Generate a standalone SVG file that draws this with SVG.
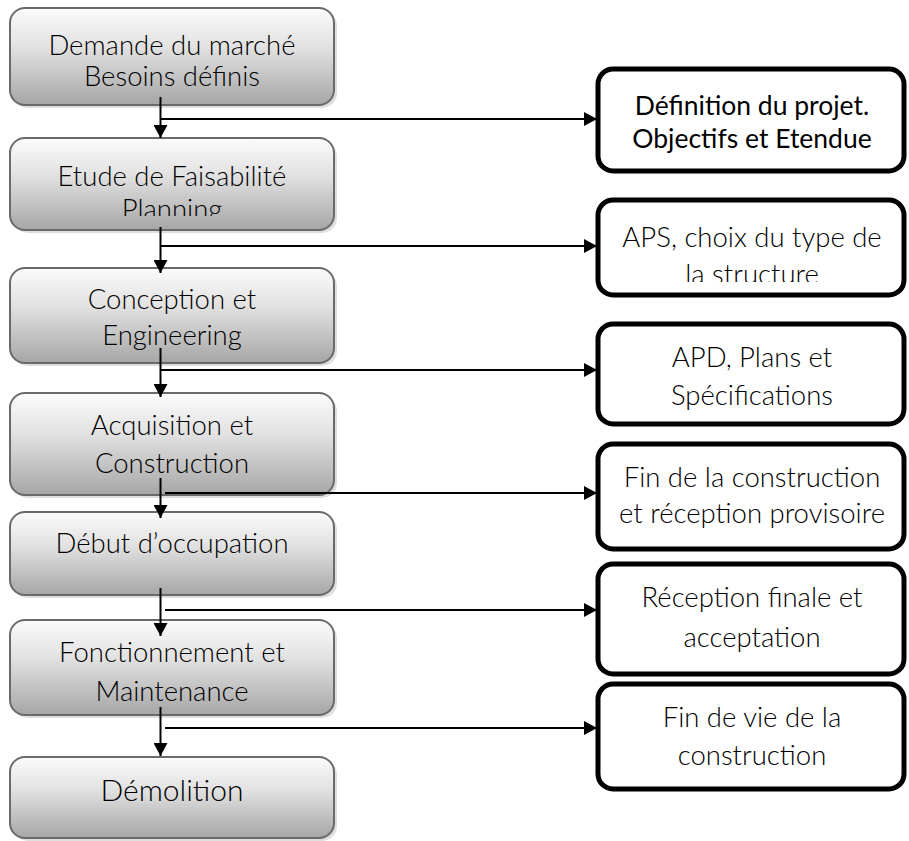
<svg xmlns="http://www.w3.org/2000/svg" width="909" height="841" viewBox="0 0 909 841">
<style>
.step{fill:url(#g);stroke:#6a6a6a;stroke-width:2}
.shadow{fill:#c8c8c8;opacity:0.6}
.out{fill:#fff;stroke:#000;stroke-width:5}
.t{font-family:Lato,"Open Sans","Liberation Sans",sans-serif;font-weight:300;font-size:27.5px;fill:#000;text-anchor:middle}
.tb{font-weight:400;font-size:26.5px}
.big{font-size:30px}
.c{stroke:#000;stroke-width:2;fill:none}
</style>
<defs>
<linearGradient id="g" x1="0" y1="0" x2="0" y2="1">
<stop offset="0" stop-color="#fbfbfb"/>
<stop offset="0.4" stop-color="#e2e2e2"/>
<stop offset="1" stop-color="#a6a6a6"/>
</linearGradient>
<marker id="ah" markerUnits="userSpaceOnUse" markerWidth="14" markerHeight="14" refX="13" refY="7" orient="auto">
<path d="M0,0 L13,7 L0,14 Z" fill="#000"/>
</marker>
<clipPath id="c2"><rect x="10" y="138" width="324" height="78"/></clipPath>
<clipPath id="cr2"><rect x="596" y="198" width="310" height="84"/></clipPath>
</defs>

<g id="n1">
<rect class="shadow" x="13" y="11" width="324" height="97" rx="15"/>
<rect class="step" x="10" y="8" width="324" height="97" rx="15"/>
<text class="t" x="172" y="55">Demande du marché</text>
<text class="t" x="172" y="86">Besoins définis</text>
</g>
<g id="n2">
<rect class="shadow" x="13" y="141" width="324" height="92" rx="15"/>
<rect class="step" x="10" y="138" width="324" height="92" rx="15"/>
<g clip-path="url(#c2)">
<text class="t" x="172" y="186">Etude de Faisabilité</text>
<text class="t" x="172" y="219">Planning</text>
</g>
</g>
<g id="n3">
<rect class="shadow" x="13" y="271" width="324" height="95" rx="15"/>
<rect class="step" x="10" y="268" width="324" height="95" rx="15"/>
<text class="t" x="172" y="309">Conception et</text>
<text class="t" x="172" y="345">Engineering</text>
</g>
<g id="n4">
<rect class="shadow" x="13" y="396" width="324" height="102" rx="15"/>
<rect class="step" x="10" y="393" width="324" height="102" rx="15"/>
<text class="t" x="172" y="435">Acquisition et</text>
<text class="t" x="172" y="473">Construction</text>
</g>
<g id="n5">
<rect class="shadow" x="13" y="515" width="324" height="83" rx="15"/>
<rect class="step" x="10" y="512" width="324" height="83" rx="15"/>
<text class="t" x="172" y="553">Début d’occupation</text>
</g>
<g id="n6">
<rect class="shadow" x="13" y="623" width="324" height="95" rx="15"/>
<rect class="step" x="10" y="620" width="324" height="95" rx="15"/>
<text class="t" x="172" y="662">Fonctionnement et</text>
<text class="t" x="172" y="701">Maintenance</text>
</g>
<g id="n7">
<rect class="shadow" x="13" y="760" width="324" height="81" rx="15"/>
<rect class="step" x="10" y="757" width="324" height="81" rx="15"/>
<text class="t big" x="172" y="801">Démolition</text>
</g>

<g id="r1">
<rect class="out" x="598" y="69" width="306" height="102" rx="15"/>
<text class="t tb" x="752" y="115">Définition du projet.</text>
<text class="t tb" x="752" y="148">Objectifs et Etendue</text>
</g>
<g id="r2">
<rect class="out" x="598" y="200" width="306" height="95" rx="15"/>
<g clip-path="url(#cr2)">
<text class="t" x="752" y="247">APS, choix du type de</text>
<text class="t" x="752" y="284">la structure</text>
</g>
</g>
<g id="r3">
<rect class="out" x="598" y="324" width="306" height="100" rx="15"/>
<text class="t" x="752" y="367">APD, Plans et</text>
<text class="t" x="752" y="405">Spécifications</text>
</g>
<g id="r4">
<rect class="out" x="598" y="444" width="306" height="105" rx="15"/>
<text class="t" x="752" y="487">Fin de la construction</text>
<text class="t" x="752" y="523">et réception provisoire</text>
</g>
<g id="r5">
<rect class="out" x="598" y="564" width="306" height="110" rx="15"/>
<text class="t" x="752" y="607">Réception finale et</text>
<text class="t" x="752" y="647">acceptation</text>
</g>
<g id="r6">
<rect class="out" x="598" y="684" width="306" height="105" rx="15"/>
<text class="t" x="752" y="727">Fin de vie de la</text>
<text class="t" x="752" y="765">construction</text>
</g>

<g id="connectors">
<line class="c" x1="160.5" y1="97" x2="160.5" y2="138" marker-end="url(#ah)"/>
<line class="c" x1="160.5" y1="227" x2="160.5" y2="273" marker-end="url(#ah)"/>
<line class="c" x1="160.5" y1="348" x2="160.5" y2="397" marker-end="url(#ah)"/>
<line class="c" x1="160.5" y1="478" x2="160.5" y2="518" marker-end="url(#ah)"/>
<line class="c" x1="160.5" y1="588" x2="160.5" y2="636" marker-end="url(#ah)"/>
<line class="c" x1="160.5" y1="707" x2="160.5" y2="756" marker-end="url(#ah)"/>
<line class="c" x1="160" y1="119" x2="597" y2="119" marker-end="url(#ah)"/>
<line class="c" x1="160" y1="246" x2="597" y2="246" marker-end="url(#ah)"/>
<line class="c" x1="160" y1="370" x2="597" y2="370" marker-end="url(#ah)"/>
<line class="c" x1="165" y1="493" x2="597" y2="493" marker-end="url(#ah)"/>
<line class="c" x1="165" y1="610" x2="597" y2="610" marker-end="url(#ah)"/>
<line class="c" x1="165" y1="728" x2="597" y2="728" marker-end="url(#ah)"/>
</g>
</svg>
